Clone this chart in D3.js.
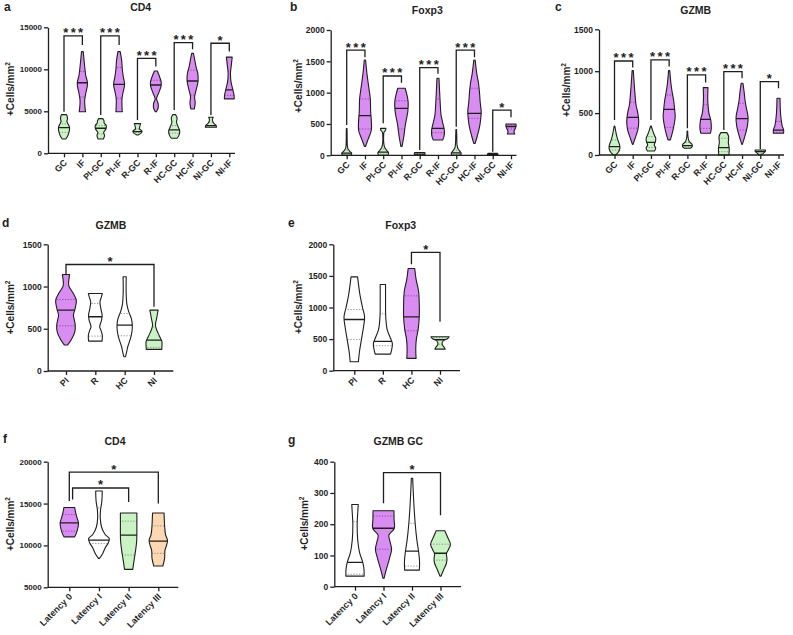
<!DOCTYPE html>
<html><head><meta charset="utf-8">
<script src="https://cdn.jsdelivr.net/npm/d3@7"></script>
<style>
body{margin:0;background:#fff}
svg{display:block}
</style>
</head><body>
<svg id="c" width="793" height="635"></svg>
<script>
// ================= DATA =================
const groupsSite = ["GC","IF","PI-GC","PI-IF","R-GC","R-IF","HC-GC","HC-IF","NI-GC","NI-IF"];
const groupsDisease = ["PI","R","HC","NI"];
const groupsLatency = ["Latency 0","Latency I","Latency II","Latency III"];

const ticksCD4 = [0,5000,10000,15000];
const ticksFoxp3 = [0,500,1000,1500,2000];
const ticksGZMB = [0,500,1000,1500];
const ticksCD4Lat = [5000,10000,15000,20000];
const ticksGZMBLat = [0,100,200,300,400];

// violin profiles: [value, relative density]
// --- a: CD4 ---
const cd4Profiles = [
  [[1700,.3],[2100,.65],[2600,.9],[3100,.95],[3500,.7],[3800,.5],[4100,.6],[4400,.55],[4600,.4]],
  [[4950,.55],[5500,.45],[6300,.4],[7200,.6],[8000,.85],[8500,.86],[9200,.6],[10000,.45],[11000,.3],[12100,.15]],
  [[1700,.45],[2100,.65],[2500,.5],[2900,.9],[3300,.95],[3600,.6],[3900,.55],[4130,.35]],
  [[4950,.55],[5600,.5],[6500,.5],[7300,.7],[8200,.95],[9000,.75],[10000,.55],[11000,.45],[12100,.2]],
  [[2180,.1],[2450,.7],[2650,.78],[2900,.35],[3200,.4],[3530,.55]],
  [[4950,.1],[5400,.4],[5900,.4],[6500,.12],[7200,.5],[8000,.9],[8500,.92],[9200,.6],[9800,.25]],
  [[1790,.5],[2200,.85],[2700,.95],[3200,.65],[3700,.4],[4200,.5],[4600,.25]],
  [[5280,.3],[6000,.45],[6700,.35],[7500,.6],[8600,.95],[9500,.9],[10300,.6],[11200,.35],[11900,.15]],
  [[3100,.95],[3300,.9],[3600,.45],[4000,.25],[4290,.4]],
  [[6480,.85],[7000,.8],[7600,.6],[8500,.3],[9500,.2],[10500,.35],[11450,.5]]
];
const cd4Median = [3050,8400,2980,8200,2580,8130,2780,8610,3300,7540];
const cd4Q1 = [2500,6700,2300,6550,2450,6600,2400,6950,3150,6900];
const cd4Q3 = [3500,9750,3300,10200,2900,8700,3300,9920,3700,9800];
const cd4Sig = [[0,1,13970,4960,12900,"***"],[2,3,13970,4560,12900,"***"],[4,5,11310,3970,10320,"***"],[6,7,13180,5160,12390,"***"],[8,9,13100,4570,12110,"*"]];

// --- b: Foxp3 ---
const foxp3Profiles = [
  [[0,.6],[30,.75],[60,.5],[100,.2],[150,.1],[250,.07],[350,.06],[426,.05]],
  [[140,.08],[250,.45],[400,.95],[550,.95],[700,.85],[900,.8],[1100,.55],[1300,.3],[1520,.1]],
  [[0,.7],[40,.8],[80,.5],[130,.2],[200,.08],[300,.06],[370,.12],[400,.35],[430,.4]],
  [[140,.08],[300,.35],[500,.6],[700,.95],[850,1],[950,.85],[1070,.55]],
  [[0,.75],[20,.8],[45,.75]],
  [[245,.7],[300,.9],[400,.95],[500,.75],[650,.45],[800,.35],[1000,.25],[1230,.15]],
  [[0,.6],[30,.75],[70,.5],[120,.2],[200,.1],[300,.08],[410,.05]],
  [[190,.1],[300,.4],[450,.75],[600,.95],[700,1],[850,.85],[1000,.75],[1150,.6],[1300,.35],[1520,.1]],
  [[0,.7],[15,.8],[30,.7]],
  [[340,.55],[380,.45],[420,.6],[460,.75],[500,.75]]
];
const foxp3Median = [35,633,50,750,20,430,40,670,15,460];
const foxp3Q1 = [15,420,20,420,10,360,15,590,5,420];
const foxp3Q3 = [80,900,100,870,30,900,80,1070,25,490];
const foxp3Sig = [[0,1,1680,484,1564,"***"],[2,3,1266,510,1160,"***"],[4,5,1400,85,1300,"***"],[6,7,1680,457,1564,"***"],[8,9,720,58,608,"*"]];

// --- c: GZMB ---
const gzmbProfiles = [
  [[0,.15],[30,.6],[80,.9],[120,.85],[180,.55],[250,.3],[346,.05]],
  [[127,.05],[200,.4],[300,.85],[400,1],[500,.85],[600,.55],[750,.35],[900,.2],[1007,.1]],
  [[48,.6],[80,.8],[120,.55],[160,.75],[200,.8],[250,.5],[300,.25],[346,.05]],
  [[180,.2],[300,.65],[450,1],[550,.9],[650,.75],[750,.5],[850,.3],[1007,.1]],
  [[80,.5],[100,.8],[130,.75],[160,.3],[220,.1],[287,.05]],
  [[259,.8],[320,.95],[420,.85],[500,.55],[600,.4],[700,.35],[804,.4]],
  [[0,.85],[80,.9],[150,.75],[220,.8],[267,.5]],
  [[127,.05],[220,.45],[350,.9],[450,1],[550,.75],[650,.5],[750,.35],[856,.15]],
  [[0,.2],[20,.5],[45,.85],[60,.85]],
  [[259,.85],[300,.85],[350,.6],[450,.4],[550,.3],[677,.25]]
];
const gzmbMedian = [100,450,150,545,111,426,88,434,40,298];
const gzmbQ1 = [60,320,90,330,95,318,40,298,20,270];
const gzmbQ3 = [180,630,220,716,150,600,200,617,50,400];
const gzmbSig = [[0,1,1122,418,1043,"***"],[2,3,1134,418,1055,"***"],[4,5,955,318,864,"***"],[6,7,995,298,915,"***"],[8,9,875,68,796,"*"]];

// --- d: GZMB by disease ---
const gzmbDisProfiles = [
  [[307,.15],[380,.55],[460,.85],[544,.9],[620,.78],[662,.72],[721,.85],[839,1],[920,.7],[1000,.3],[1037,.25],[1100,.3],[1143,.35]],
  [[354,.65],[420,.68],[480,.55],[524,.42],[600,.6],[660,.66],[730,.55],[819,.45],[880,.6],[918,.68]],
  [[169,.08],[230,.2],[287,.3],[400,.6],[480,.72],[544,.74],[620,.65],[700,.4],[786,.22],[900,.15],[1000,.14],[1115,.15]],
  [[256,.75],[300,.77],[347,.77],[420,.5],[500,.22],[544,.14],[620,.25],[721,.4]]
];
const gzmbDisMedian = [721,642,544,366];
const gzmbDisQ1 = [535,413,417,280];
const gzmbDisQ3 = [846,800,681,520];
const gzmbDisSig = [[0,3,1261,1143,760,"*"]];

// --- e: Foxp3 by disease ---
const foxp3DisProfiles = [
  [[142,.4],[300,.5],[500,.7],[700,.9],[850,1],[1000,.8],[1200,.55],[1400,.38],[1484,.32]],
  [[263,.75],[330,.85],[430,.92],[530,.7],[650,.42],[850,.28],[1100,.26],[1363,.26]],
  [[195,.45],[350,.42],[500,.48],[650,.65],[850,.76],[1050,.76],[1250,.7],[1450,.45],[1616,.32]],
  [[342,.5],[370,.4],[420,.2],[470,.3],[510,.75],[537,.88]]
];
const foxp3DisMedian = [810,463,853,490];
const foxp3DisQ1 = [495,395,632,420];
const foxp3DisQ3 = [968,900,1184,520];
const foxp3DisSig = [[2,3,1873,1684,775,"*"]];

// --- f: CD4 by latency ---
const cd4LatProfiles = [
  [[11024,.52],[11500,.7],[12200,.85],[12690,.89],[13300,.75],[14000,.6],[14524,.53]],
  [[8450,.05],[9000,.35],[9700,.6],[10300,.9],[10830,1],[11300,.6],[12200,.25],[13200,.13],[14200,.15],[15300,.28],[16500,.32]],
  [[7140,.4],[8250,.53],[9440,.68],[10500,.78],[11500,.8],[12500,.8],[13880,.8]],
  [[7540,.44],[8450,.61],[9440,.65],[10000,.8],[10630,.89],[11300,.7],[12420,.61],[13200,.58],[13880,.56]]
];
const cd4LatMedian = [12690,10630,11230,10520];
const cd4LatQ1 = [11700,10240,8850,9050];
const cd4LatQ3 = [13690,14480,12900,12340];
const cd4LatSig = [[0,3,18760,15300,15000,"*"],[0,2,16860,15500,15190,"*"]];

// --- g: GZMB GC by latency ---
const gzmbLatProfiles = [
  [[34,.85],[60,.82],[80,.7],[110,.42],[150,.25],[200,.2],[240,.26],[263,.3]],
  [[27,.05],[60,.3],[90,.55],[120,.75],[145,.6],[165,.5],[187,1],[215,.98],[243,.97]],
  [[53,.68],[80,.7],[110,.62],[150,.45],[200,.3],[260,.18],[347,.06]],
  [[34,.05],[55,.3],[75,.55],[90,.6],[105,.55],[120,.75],[136,.92],[155,.7],[179,.4]]
];
const gzmbLatMedian = [78,187,114,107];
const gzmbLatQ1 = [40,120,66,85];
const gzmbLatQ3 = [208,226,203,136];
const gzmbLatSig = [[1,3,365,267,229,"*"]];

// ================= STYLES =================
const FILL = {p:"#d98cf1", g:"#c9f3c3", w:"#ffffff", o:"#fdd7b2"};
const fillsSite = ["g","p","g","p","g","p","g","p","g","p"];
const fillsDisD = ["p","w","w","g"];
const fillsDisE = ["w","w","p","g"];
const fillsLatF = ["p","w","g","o"];
const fillsLatG = ["w","p","w","g"];
const FONT = "'Liberation Sans', Arial, Helvetica, sans-serif";
const INK = "#1e1e1e";

const svg = d3.select("#c");
let clipN = 0;

function drawPanel(cfg, groups, profiles, medians, q1s, q3s, fills, sig) {
  const g = svg.append("g");
  const y = d3.scaleLinear().domain(cfg.domain).range([cfg.yBottom, cfg.yTop]);
  const x = d3.scalePoint().domain(groups).range(cfg.pts);
  const w = d3.scaleLinear().domain([0,1]).range([0, cfg.half]);

  // letter & title
  g.append("text").attr("x", cfg.letter[1]).attr("y", cfg.letter[2])
    .attr("font-family", FONT).attr("font-weight","bold").attr("font-size",12).attr("fill",INK)
    .text(cfg.letter[0]);
  g.append("text").attr("x", cfg.title[1]).attr("y", cfg.title[2]).attr("text-anchor","middle")
    .attr("font-family", FONT).attr("font-weight","bold").attr("font-size",10.5).attr("fill",INK)
    .text(cfg.title[0]);

  // y label
  const yl = g.append("text").attr("transform", `translate(${cfg.ylab[0]},${cfg.ylab[1]}) rotate(-90)`)
    .attr("text-anchor","middle").attr("font-family", FONT).attr("font-weight","bold")
    .attr("font-size",10).attr("fill",INK);
  yl.append("tspan").text("+Cells/mm");
  yl.append("tspan").attr("font-size",6.5).attr("dy",-4).text("2");

  // violins
  profiles.forEach((prof, i) => {
    const cx = x(groups[i]);
    const area = d3.area().curve(d3.curveCatmullRom.alpha(0.5))
      .y(d => y(d[0])).x0(d => cx - w(d[1])).x1(d => cx + w(d[1]));
    const dpath = area(prof);
    const id = "clipv" + (clipN++);
    g.append("clipPath").attr("id", id).append("path").attr("d", dpath);
    g.append("path").attr("d", dpath).attr("fill", FILL[fills[i]]).attr("stroke","none");
    const lg = g.append("g").attr("clip-path", `url(#${id})`);
    [q1s[i], q3s[i]].forEach(v => {
      lg.append("line").attr("x1", cx - cfg.half - 2).attr("x2", cx + cfg.half + 2)
        .attr("y1", y(v)).attr("y2", y(v))
        .attr("stroke", fills[i] === "p" ? "#8a4a9c" : "#8a8a8a").attr("stroke-width",0.9)
        .attr("stroke-dasharray","1.3,1.5");
    });
    lg.append("line").attr("x1", cx - cfg.half - 2).attr("x2", cx + cfg.half + 2)
      .attr("y1", y(medians[i])).attr("y2", y(medians[i]))
      .attr("stroke", INK).attr("stroke-width",1.3);
    g.append("path").attr("d", dpath).attr("fill","none").attr("stroke", INK)
      .attr("stroke-width",1.1).attr("stroke-linejoin","round");
  });

  // y axis
  const ya = d3.axisLeft(y).tickValues(cfg.ticks).tickSize(4).tickSizeOuter(0).tickPadding(2)
    .tickFormat(d3.format("d"));
  const yg = g.append("g").attr("transform", `translate(${cfg.axisX},0)`).call(ya)
    .attr("font-family", FONT).attr("font-size", cfg.tickFs).attr("font-weight","bold");
  yg.select(".domain").attr("stroke", INK).attr("stroke-width",1.3);
  yg.selectAll(".tick line").attr("stroke", INK).attr("stroke-width",1.3);
  yg.selectAll(".tick text").attr("fill", INK);

  // x axis
  const xa = d3.axisBottom(x).tickSize(4).tickSizeOuter(0);
  const xg = g.append("g").attr("transform", `translate(0,${cfg.yBottom})`).call(xa)
    .attr("font-family", FONT).attr("font-size", cfg.xFs).attr("font-weight","bold");
  xg.select(".domain").attr("d", `M${cfg.axisX},0H${cfg.xEnd}`).attr("stroke", INK).attr("stroke-width",1.3);
  xg.selectAll(".tick line").attr("stroke", INK).attr("stroke-width",1.3);
  xg.selectAll(".tick text").attr("fill", INK).attr("x", null).attr("y", null).attr("dy", null)
    .attr("text-anchor","end").attr("transform", `translate(${cfg.xlOff[0]},${cfg.xlOff[1]}) rotate(-45)`);

  // significance brackets
  sig.forEach((s, k) => {
    const inset = (cfg.insets && cfg.insets[k]) || 0;
    const x1 = x(groups[s[0]]) + inset, x2 = x(groups[s[1]]);
    g.append("path").attr("d", `M${x1},${y(s[3])}V${y(s[2])}H${x2}V${y(s[4])}`)
      .attr("fill","none").attr("stroke", INK).attr("stroke-width",1.3);
    g.append("text").attr("x", (x1 + x2) / 2 + (s[5].length > 1 ? 1.2 : 0)).attr("y", y(s[2]) + 1.5)
      .attr("text-anchor","middle").attr("font-family", FONT).attr("font-weight","bold")
      .attr("font-size",13).attr("letter-spacing", s[5].length > 1 ? 2.4 : 0).attr("fill", INK)
      .text(s[5]);
  });
}

drawPanel({letter:["a",4,10.7], title:["CD4",140.7,10.5], ylab:[13.5,89], domain:[0,15000], ticks:ticksCD4,
  yBottom:153.3, yTop:27.3, axisX:48, xEnd:235, pts:[64,229.3], half:5.8, tickFs:8, xFs:8.8, xlOff:[3,10]},
  groupsSite, cd4Profiles, cd4Median, cd4Q1, cd4Q3, fillsSite, cd4Sig);

drawPanel({letter:["b",290,10.7], title:["Foxp3",427.3,14], ylab:[301.5,86], domain:[0,2000], ticks:ticksFoxp3,
  yBottom:155.3, yTop:30, axisX:330.7, xEnd:516.5, pts:[346.7,511], half:6.7, tickFs:8.5, xFs:8.8, xlOff:[3,10]},
  groupsSite, foxp3Profiles, foxp3Median, foxp3Q1, foxp3Q3, fillsSite, foxp3Sig);

drawPanel({letter:["c",555,10.5], title:["GZMB",695.7,13.5], ylab:[569.5,90], domain:[0,1500], ticks:ticksGZMB,
  yBottom:155, yTop:29.3, axisX:599, xEnd:784, pts:[614.5,778.5], half:6, tickFs:8.5, xFs:8.8, xlOff:[3,10]},
  groupsSite, gzmbProfiles, gzmbMedian, gzmbQ1, gzmbQ3, fillsSite, gzmbSig);

drawPanel({letter:["d",2,227], title:["GZMB",111,229], ylab:[14,307.5], domain:[0,1500], ticks:ticksGZMB,
  yBottom:371, yTop:244.3, axisX:47.7, xEnd:173.3, pts:[66,154], half:10.3, tickFs:8.5, xFs:8.8, xlOff:[3,10]},
  groupsDisease, gzmbDisProfiles, gzmbDisMedian, gzmbDisQ1, gzmbDisQ3, fillsDisD, gzmbDisSig);

drawPanel({letter:["e",288,227], title:["Foxp3",400.7,228.5], ylab:[301.5,307], domain:[0,2000], ticks:ticksFoxp3,
  yBottom:370.7, yTop:244.3, axisX:333.3, xEnd:460, pts:[354.3,440], half:10.3, tickFs:8.5, xFs:8.8, xlOff:[3,10]},
  groupsDisease, foxp3DisProfiles, foxp3DisMedian, foxp3DisQ1, foxp3DisQ3, fillsDisE, foxp3DisSig);

drawPanel({letter:["f",3,443], title:["CD4",115,444.5], ylab:[13.5,524], domain:[5000,20000], ticks:ticksCD4Lat,
  yBottom:587.3, yTop:461.7, axisX:47.7, xEnd:178.3, pts:[69.3,158.3], half:10.3, tickFs:8, xFs:9, xlOff:[3,10],
  insets:[0,3.3]},
  groupsLatency, cd4LatProfiles, cd4LatMedian, cd4LatQ1, cd4LatQ3, fillsLatF, cd4LatSig);

drawPanel({letter:["g",288,444], title:["GZMB GC",398.3,444.5], ylab:[308,523.5], domain:[0,400], ticks:ticksGZMBLat,
  yBottom:586.7, yTop:461.7, axisX:334.3, xEnd:461, pts:[355,440.5], half:10.8, tickFs:8.5, xFs:9, xlOff:[3,10]},
  groupsLatency, gzmbLatProfiles, gzmbLatMedian, gzmbLatQ1, gzmbLatQ3, fillsLatG, gzmbLatSig);
</script>
</body></html>
